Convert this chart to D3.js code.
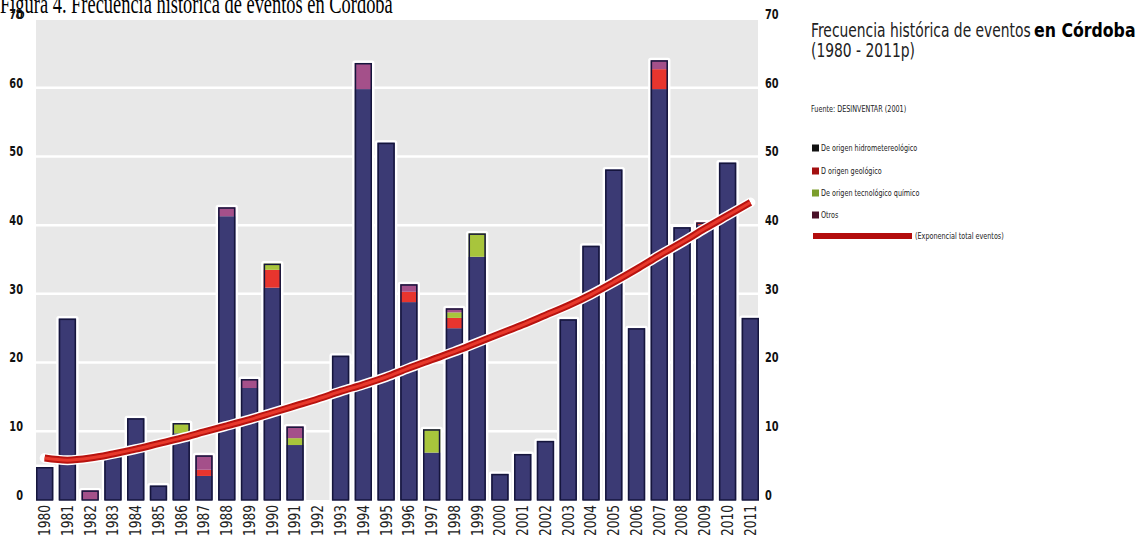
<!DOCTYPE html>
<html><head><meta charset="utf-8">
<script src="https://cdn.jsdelivr.net/npm/d3@7/dist/d3.min.js"></script>
<style>
html,body{margin:0;padding:0;background:#fff;overflow:hidden;}
svg{display:block;}
</style></head>
<body>
<svg id="c" width="1141" height="538"></svg>
<script>
const years = ["1980","1981","1982","1983","1984","1985","1986","1987","1988","1989","1990","1991","1992","1993","1994","1995","1996","1997","1998","1999","2000","2001","2002","2003","2004","2005","2006","2007","2008","2009","2010","2011"];
const hidro = [4.8,26.4,0,6.3,11.9,2.1,9.7,3.5,41.3,16.3,30.9,8.0,0,21.0,59.8,52.0,28.8,6.9,25.0,35.4,3.8,6.7,8.6,26.3,37.0,48.1,25.0,59.8,39.7,40.0,49.1,26.5];
const geo   = [0,0,0,0,0,0,0,0.9,0,0,2.6,0,0,0,0,0,1.5,0,1.5,0,0,0,0,0,0,0,0,2.9,0,0.4,0,0];
const tec   = [0,0,0,0,0,0,1.5,0,0,0,0.9,1.0,0,0,0,0,0,3.4,0.8,3.4,0,0,0,0,0,0,0,0,0,0,0,0];
const otros = [0,0,1.4,0,0,0,0,2.1,1.3,1.3,0,1.7,0,0,3.8,0,1.1,0,0.6,0,0,0,0,0,0,0,0,1.3,0,0,0,0];
const trend = [6.1,5.8,6.1,6.7,7.4,8.2,9.0,9.9,10.8,11.7,12.7,13.7,14.7,15.8,16.8,17.9,19.2,20.4,21.6,22.9,24.2,25.5,26.9,28.3,29.9,31.7,33.6,35.6,37.5,39.5,41.4,43.3];
const yTicks = [0,10,20,30,40,50,60,70];
const seriesNames = ["De origen hidrometereológico","D origen geológico","De origen tecnológico químico","Otros"];
const lineName = "(Exponencial total eventos)";

const barColors = ["#3b3a74","#e8352e","#a8c53c","#a4508a"];
const legendColors = ["#111111","#a30f10","#7c9e2c","#4a1128"];

const svg = d3.select("#c");
const sans = "'DejaVu Sans','Liberation Sans',sans-serif";
// place a text at (px,py) and squeeze it horizontally by factor f (imitates a condensed face)
function squeezed(parent, px, py, f, str){
  const t = parent.append("text").attr("x",0).attr("y",0).text(str)
    .attr("transform",`translate(${px},${py}) scale(${f},1)`);
  return t;
}

const x = d3.scaleBand().domain(years).range([36,759]).paddingInner(0.24).paddingOuter(0);
const y = d3.scaleLinear().domain([0,70]).range([500,19]);

// title (partially cut at top)
const ttl = svg.append("g").attr("font-family","'Liberation Serif','DejaVu Serif',serif").attr("font-size",28).attr("fill","#000");
const tt = squeezed(ttl, 0, 13, 1, "Figura 4. Frecuencia histórica de eventos en Córdoba");
tt.attr("transform",`translate(0,13) scale(${393/tt.node().getComputedTextLength()},1)`);

// background
svg.append("rect").attr("x",36).attr("y",20).attr("width",722).attr("height",480).attr("fill","#e8e8e8");
// gridlines
svg.append("g").selectAll("line").data(yTicks.filter(t=>t>0&&t<70)).join("line")
  .attr("x1",36).attr("x2",758).attr("y1",d=>y(d)).attr("y2",d=>y(d))
  .attr("stroke","#fff").attr("stroke-width",2.5);

// stacked data
const data = years.map((yr,i)=>({yr, vals:[hidro[i],geo[i],tec[i],otros[i]]}));
const bars = svg.append("g");
data.forEach(d=>{
  const total = d3.sum(d.vals);
  if(total<=0) return;
  const bx = x(d.yr), bw = x.bandwidth();
  bars.append("rect").attr("x",bx).attr("y",y(total)).attr("width",bw).attr("height",y(0)-y(total))
    .attr("fill","#fff").attr("stroke","#fff").attr("stroke-width",5).attr("stroke-linejoin","round");
  let acc = 0;
  d.vals.forEach((v,k)=>{
    if(v<=0) return;
    bars.append("rect").attr("x",bx).attr("y",y(acc+v)).attr("width",bw).attr("height",y(acc)-y(acc+v))
      .attr("fill",barColors[k]);
    acc += v;
  });
  bars.append("rect").attr("x",bx+0.75).attr("y",y(total)+0.75).attr("width",bw-1.5).attr("height",y(0)-y(total)-0.75)
    .attr("fill","none").attr("stroke","#15153c").attr("stroke-width",1.5);
});

// trend line
const line = d3.line().x((d,i)=>x(years[i])+x.bandwidth()/2).y(d=>y(d)).curve(d3.curveMonotoneX);
const tl = svg.append("g");
tl.append("path").datum(trend).attr("d",line).attr("fill","none").attr("stroke","#fff").attr("stroke-width",10).attr("stroke-linecap","round");
tl.append("path").datum(trend).attr("d",line).attr("fill","none").attr("stroke","#b8130f").attr("stroke-width",7).attr("stroke-linecap","butt");
tl.append("path").datum(trend).attr("d",line).attr("fill","none").attr("stroke","#e8392c").attr("stroke-width",3).attr("stroke-linecap","butt");

// axes
const yl = svg.append("g").attr("transform","translate(23,0)")
  .call(d3.axisLeft(y).tickValues(yTicks).tickSize(0).tickPadding(0));
const yr = svg.append("g").attr("transform","translate(765,0)")
  .call(d3.axisRight(y).tickValues(yTicks).tickSize(0).tickPadding(0));
[yl,yr].forEach(g=>{
  g.select(".domain").remove();
  g.selectAll("text").attr("font-family",sans).attr("font-weight","bold").attr("font-size",14)
    .attr("fill","#111").attr("dy","-0.05em");
  g.selectAll("text").each(function(){
    const w = this.getComputedTextLength();
    d3.select(this).attr("textLength", w*0.7).attr("lengthAdjust","spacingAndGlyphs");
  });
});
const xa = svg.append("g").attr("transform","translate(0,500)")
  .call(d3.axisBottom(x).tickSize(0).tickPadding(0));
xa.select(".domain").remove();
xa.selectAll("text").attr("font-family",sans).attr("font-size",15).attr("fill","#222")
  .attr("transform","rotate(-90)").attr("text-anchor","end").attr("x",-5).attr("y",0).attr("dy","0.36em")
  .attr("textLength",31).attr("lengthAdjust","spacingAndGlyphs");

// legend
const lg = svg.append("g").attr("font-family",sans).attr("fill","#222");
const big = lg.append("g").attr("font-size",19);
squeezed(big, 811, 37, 0.73, "Frecuencia histórica de eventos");
squeezed(big, 1034, 37, 0.83, "en Córdoba").attr("font-weight","bold").attr("fill","#000");
squeezed(big, 811, 57, 0.73, "(1980 - 2011p)");
const small = lg.append("g").attr("font-size",9.5);
squeezed(small, 811, 112, 0.68, "Fuente: DESINVENTAR (2001)");
const ly = [148,171,193,215];
seriesNames.forEach((n,i)=>{
  lg.append("rect").attr("x",812).attr("y",ly[i]-3.5).attr("width",7).attr("height",7).attr("fill",legendColors[i]);
  squeezed(small, 821, ly[i]+3.4, 0.68, n);
});
lg.append("rect").attr("x",813).attr("y",233).attr("width",99).attr("height",6).attr("fill","#b30d0d");
squeezed(small, 915, 239.4, 0.68, lineName);
</script>
</body></html>
